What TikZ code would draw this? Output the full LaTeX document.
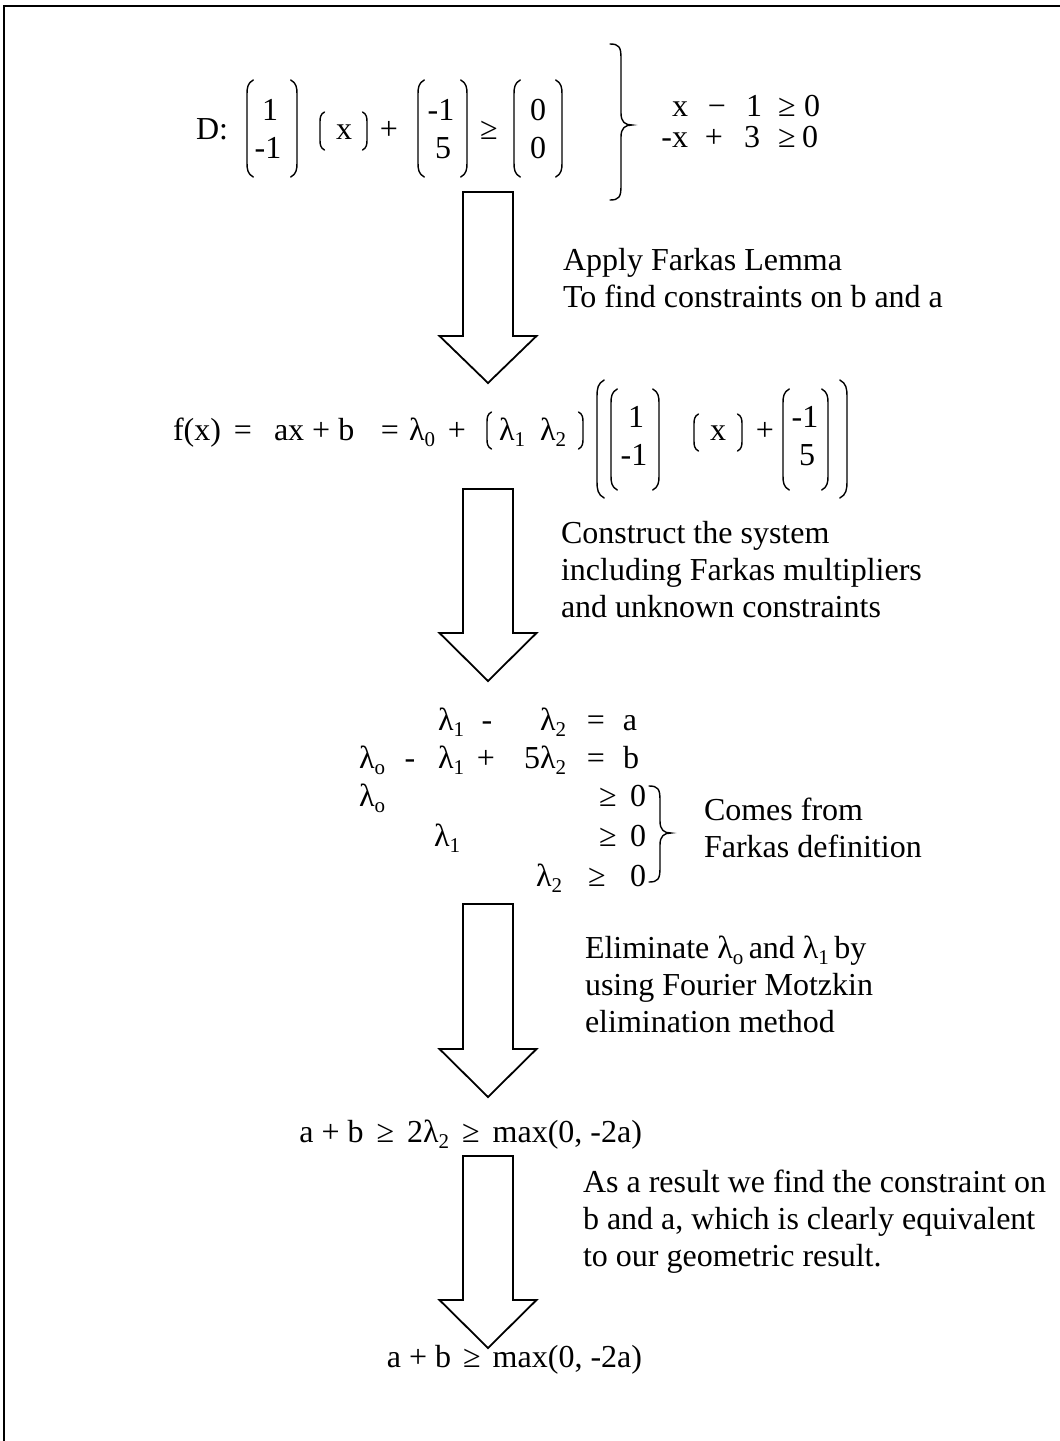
\documentclass[tikz,border=0pt]{standalone}
\usepackage{fontspec}
\setmainfont{Liberation Serif}
\newcommand{\lamb}[1]{λ\raisebox{-6pt}{\fontsize{21}{21}\selectfont #1}}
% left bracket: x, top, bottom, hook
\newcommand{\lbrk}[4]{\draw[brk] ({#1+#4*0.45},#2) .. controls ({#1+#4*0.05},{#2+#4*0.2}) and (#1,{#2+#4*0.55}) .. (#1,{#2+#4}) -- (#1,{#3-#4}) .. controls (#1,{#3-#4*0.55}) and ({#1+#4*0.05},{#3-#4*0.2}) .. ({#1+#4*0.45},#3);}
\newcommand{\rbrk}[4]{\draw[brk] ({#1-#4*0.45},#2) .. controls ({#1-#4*0.05},{#2+#4*0.2}) and (#1,{#2+#4*0.55}) .. (#1,{#2+#4}) -- (#1,{#3-#4}) .. controls (#1,{#3-#4*0.55}) and ({#1-#4*0.05},{#3-#4*0.2}) .. ({#1-#4*0.45},#3);}
% curly brace: x0 (ends), xs (spine), xt (tip), ytop, ymid, ybot
\newcommand{\cbrace}[6]{\draw[brk] (#1,#4) .. controls ({#2-2},#4) and (#2,{#4+3}) .. (#2,{#4+14}) -- (#2,{#5-12}) .. controls (#2,{#5-3}) and ({#2+4},#5) .. (#3,#5) .. controls ({#2+4},#5) and (#2,{#5+3}) .. (#2,{#5+12}) -- (#2,{#6-14}) .. controls (#2,{#6-3}) and ({#2-2},#6) .. (#1,#6);}
% block arrow: cx, top, headbase, tip, shaft half, head half
\newcommand{\barrow}[6]{\draw[blockarrow] ({#1-#5},#2) -- ({#1+#5},#2) -- ({#1+#5},#3) -- ({#1+#6},#3) -- (#1,#4) -- ({#1-#6},#3) -- ({#1-#5},#3) -- cycle;}
\begin{document}
\begin{tikzpicture}[x=1pt,y=-1pt,
  every node/.style={font=\fontsize{32}{37}\selectfont, inner sep=0pt, outer sep=0pt},
  tx/.style={anchor=base west},
  tc/.style={anchor=base},
  te/.style={anchor=base east},
  brk/.style={line width=1.4pt, line cap=round},
  blockarrow/.style={draw, line width=1.8pt, fill=white, line join=miter},
  frame/.style={line width=2pt}]
\useasboundingbox (0,0) rectangle (1060,1441);
\draw[frame] (4,1441) -- (4,6) -- (1060,6);

% ---------- top row ----------
\node[tx] (d) at (196,139) {D:};
\lbrk{247}{80}{177}{14}\rbrk{297}{80}{177}{14}
\node[tc] (m1a) at (270,120) {1};
\node[tc] (m1b) at (268,158) {-1};
\lbrk{320}{112}{150}{10}\rbrk{367}{112}{150}{10}
\node[tc] (xa) at (344,139) {x};
\node[tc] (pa) at (389,139) {+};
\lbrk{418}{80}{177}{14}\rbrk{467}{80}{177}{14}
\node[tc] (m2a) at (441,120) {-1};
\node[tc] (m2b) at (443,158) {5};
\node[tc] (ga) at (489,139) {≥};
\lbrk{514}{80}{177}{14}\rbrk{562}{80}{177}{14}
\node[tc] (m3a) at (538,120) {0};
\node[tc] (m3b) at (538,158) {0};
\cbrace{610}{621}{632}{44}{125}{200}
\node[tc] (r1a) at (680,116) {x};
\node[tc] (r1b) at (717,116) {−};
\node[tc] (r1c) at (754,116) {1};
\node[tc] (r1d) at (787,116) {≥};
\node[tc] (r1e) at (812,116) {0};
\node[te] (r2a) at (688,147) {-x};
\node[tc] (r2b) at (714,147) {+};
\node[tc] (r2c) at (752,147) {3};
\node[tc] (r2d) at (787,147) {≥};
\node[tc] (r2e) at (810,147) {0};

\barrow{488}{192}{336}{383}{25}{48.5}
\node[tx] (ap1) at (563,270) {Apply Farkas Lemma};
\node[tx] (ap2) at (563,307) {To find constraints on b and a};

% ---------- f(x) line ----------
\node[tx] (f1) at (173,440) {f(x)};
\node[tc] (f2) at (243,440) {=};
\node[tx] (f3) at (274,440) {ax + b};
\node[tc] (f6) at (390,440) {=};
\node[tx] (f7) at (409,440) {\lamb{0}};
\node[tc] (f8) at (457,440) {+};
\lbrk{487}{412}{449}{10}\rbrk{583}{412}{449}{10}
\node[tx] (f9) at (499,440) {\lamb{1}};
\node[tx] (f10) at (540,440) {\lamb{2}};
\lbrk{597}{380}{498}{16}\rbrk{847}{380}{498}{16}
\lbrk{611}{389}{490}{14}\rbrk{659}{389}{490}{14}
\node[tc] (f11) at (636,427) {1};
\node[tc] (f12) at (634,465) {-1};
\lbrk{694}{414}{451}{10}\rbrk{742}{414}{451}{10}
\node[tc] (f13) at (718,440) {x};
\node[tc] (f14) at (765,440) {+};
\lbrk{783}{389}{490}{14}\rbrk{828}{389}{490}{14}
\node[tc] (f15) at (805,427) {-1};
\node[tc] (f16) at (807,465) {5};

\barrow{488}{489}{633}{681}{25}{48.5}
\node[tx] (c1) at (561,543) {Construct the system};
\node[tx] (c2) at (561,580) {including Farkas multipliers};
\node[tx] (c3) at (561,617) {and unknown constraints};

% ---------- system ----------
\node[tx] (s11) at (438,730) {\lamb{1}};
\node[tc] (s12) at (487,730) {-};
\node[tx] (s13) at (540,730) {\lamb{2}};
\node[tc] (s14) at (596,730) {=};
\node[tc] (s15) at (630,730) {a};
\node[tx] (s21) at (359,768) {\lamb{o}};
\node[tc] (s22) at (410,768) {-};
\node[tx] (s23) at (438,768) {\lamb{1}};
\node[tc] (s24) at (486,768) {+};
\node[tx] (s25) at (524,768) {5\lamb{2}};
\node[tc] (s26) at (596,768) {=};
\node[tc] (s27) at (631,768) {b};
\node[tx] (s31) at (359,806) {\lamb{o}};
\node[tc] (s32) at (608,806) {≥};
\node[tc] (s33) at (638,806) {0};
\node[tx] (s41) at (434,846) {\lamb{1}};
\node[tc] (s42) at (608,846) {≥};
\node[tc] (s43) at (638,846) {0};
\node[tx] (s51) at (536,886) {\lamb{2}};
\node[tc] (s52) at (597,886) {≥};
\node[tc] (s53) at (638,886) {0};
\cbrace{649}{660}{671}{786}{833}{882}
\node[tx] (cf1) at (704,820) {Comes from};
\node[tx] (cf2) at (704,857) {Farkas definition};

\barrow{488}{904}{1049}{1097}{25}{48.5}
\node[tx] (e1) at (585,958) {Eliminate \lamb{o}\,and \lamb{1}\,by};
\node[tx] (e2) at (585,995) {using Fourier Motzkin};
\node[tx] (e3) at (585,1032) {elimination method};

\node[te] (res1) at (642,1142) {a + b\hspace{13pt}≥\hspace{13pt}2\lamb{2}\hspace{13pt}≥\hspace{13pt}max(0, -2a)};

\barrow{488}{1156}{1300}{1348}{25}{48.5}
\node[tx] (as1) at (583,1192) {As a result we find the constraint on};
\node[tx] (as2) at (583,1229) {b and a, which is clearly equivalent};
\node[tx] (as3) at (583,1266) {to our geometric result.};

\node[te] (res2) at (642,1367) {a + b\hspace{12pt}≥\hspace{12pt}max(0, -2a)};
\end{tikzpicture}
\end{document}
